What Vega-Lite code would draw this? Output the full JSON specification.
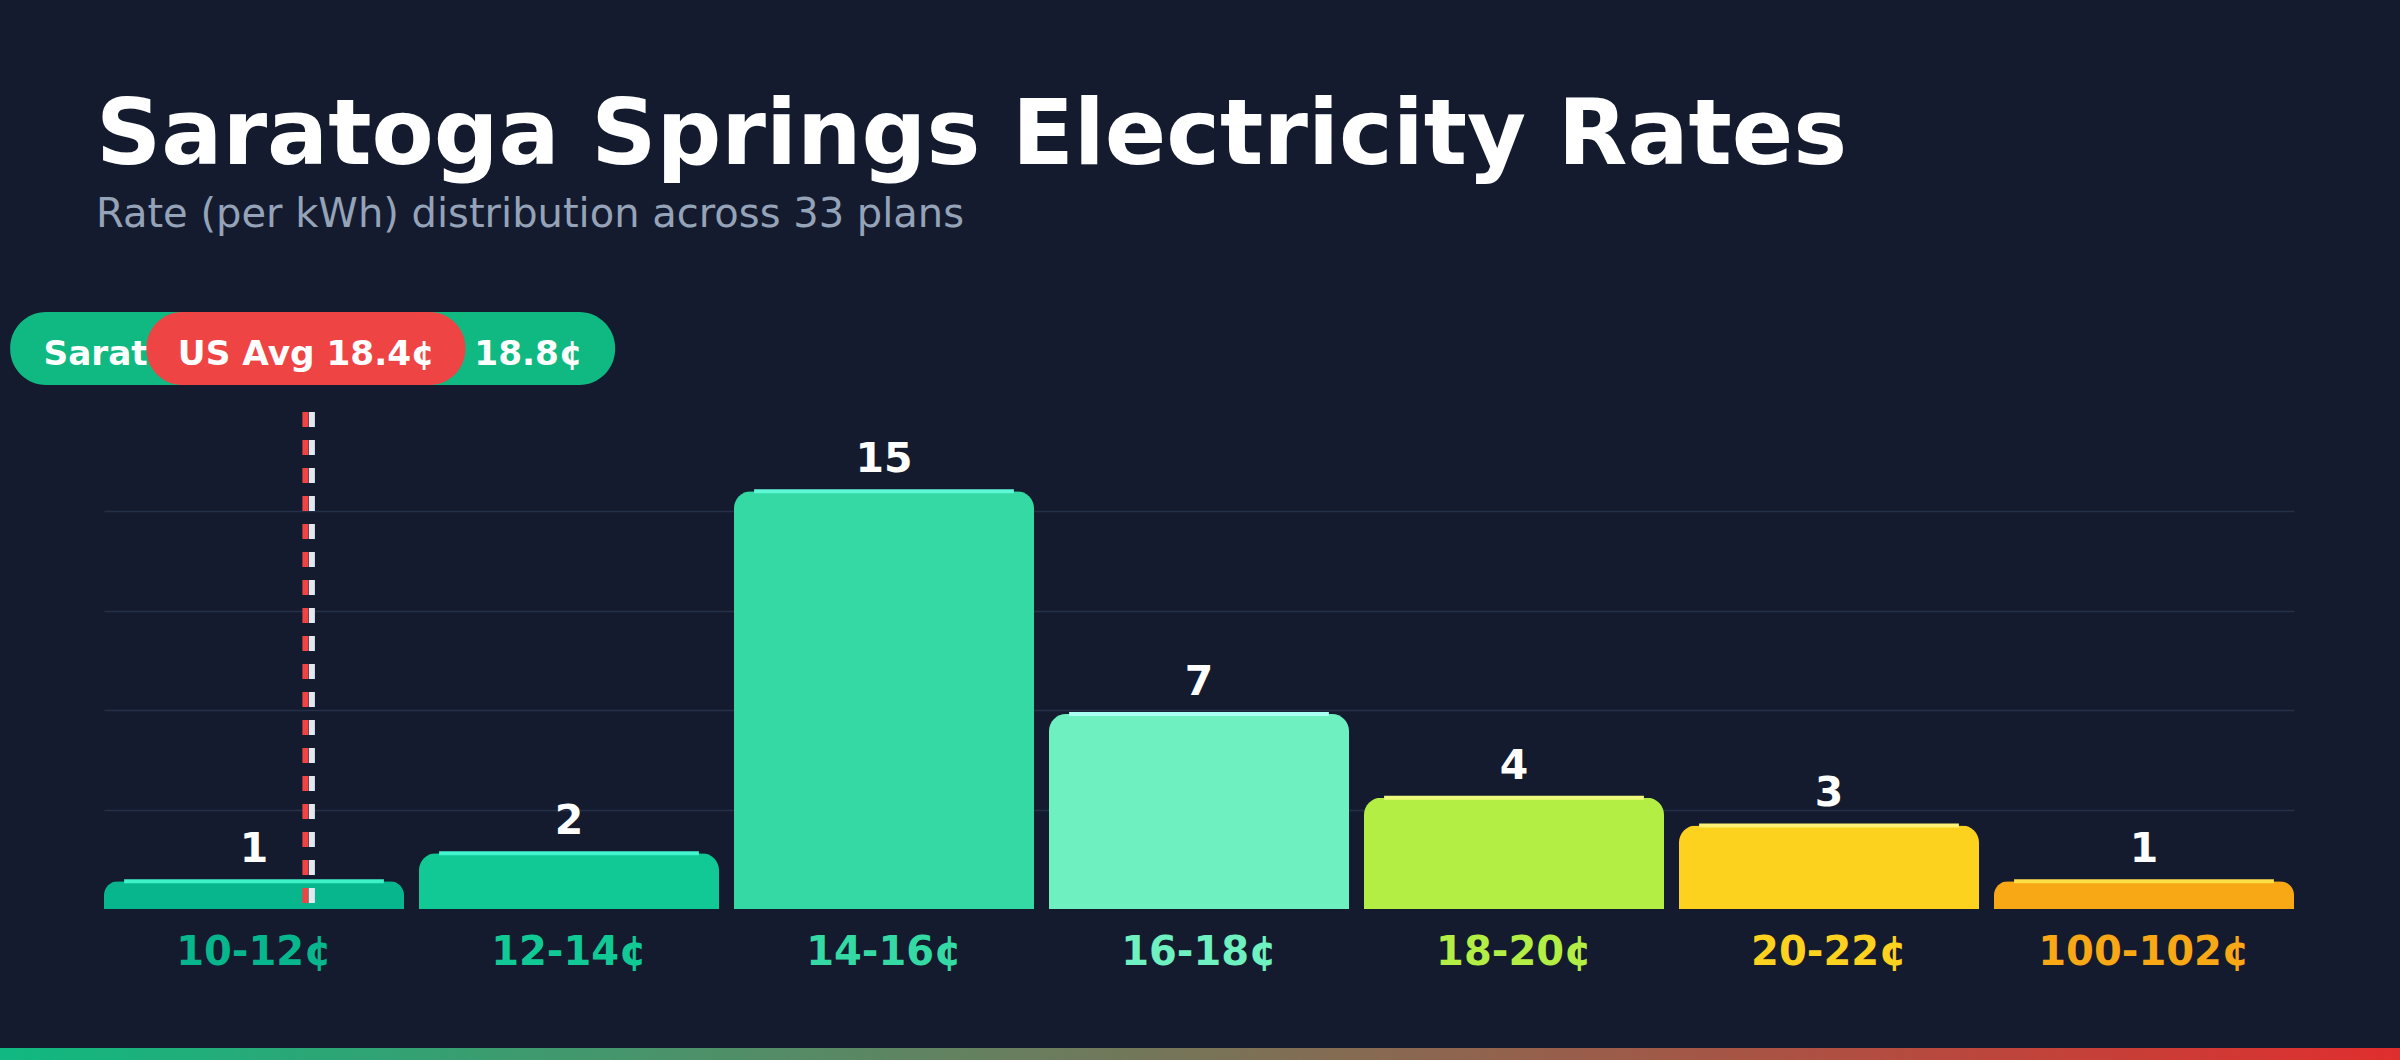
{
  "$schema": "https://vega.github.io/schema/vega-lite/v6.json",
  "description": "Saratoga Springs electricity rate distribution across 33 plans",
  "background": "#141b2f",
  "autosize": {"type": "none"},
  "width": 2190,
  "height": 497,
  "padding": {"left": 104, "top": 412, "right": 106, "bottom": 151},
  "config": {
    "view": {"stroke": null},
    "font": "DejaVu Sans"
  },
  "title": {
    "text": "Saratoga Springs Electricity Rates",
    "subtitle": "Rate (per kWh) distribution across 33 plans",
    "anchor": "start",
    "frame": "group",
    "dx": -8,
    "offset": 77,
    "font": "DejaVu Sans",
    "fontSize": 90.6,
    "fontWeight": "bold",
    "color": "#ffffff",
    "subtitleFont": "DejaVu Sans",
    "subtitleFontSize": 40,
    "subtitleFontWeight": "normal",
    "subtitleColor": "#94a3b8",
    "subtitlePadding": 12
  },
  "datasets": {
    "bins": [
      {"bin": "10-12¢", "count": 1},
      {"bin": "12-14¢", "count": 2},
      {"bin": "14-16¢", "count": 15},
      {"bin": "16-18¢", "count": 7},
      {"bin": "18-20¢", "count": 4},
      {"bin": "20-22¢", "count": 3},
      {"bin": "100-102¢", "count": 1}
    ],
    "averages": [
      {"name": "Saratoga Springs", "label": "Saratoga Springs Avg 18.8¢", "rate": 18.8},
      {"name": "US", "label": "US Avg 18.4¢", "rate": 18.4}
    ],
    "range": [
      {"low": 10, "high": 100}
    ]
  },
  "resolve": {"scale": {"x": "independent"}},
  "layer": [
    {
      "data": {"name": "bins"},
      "resolve": {"scale": {"color": "independent"}},
      "encoding": {
        "x": {
          "field": "bin",
          "type": "nominal",
          "sort": null,
          "scale": {"paddingInner": 0.0476, "paddingOuter": 0},
          "axis": {
            "title": null,
            "domain": false,
            "ticks": false,
            "grid": false,
            "labelAngle": 0,
            "labelLimit": 0,
            "labelFont": "DejaVu Sans",
            "labelFontWeight": "bold",
            "labelFontSize": 40,
            "labelPadding": 55,
            "labelBaseline": "alphabetic",
            "labelColor": {
              "condition": [
                {"test": "datum.value === '10-12¢'", "value": "#07b68c"},
                {"test": "datum.value === '12-14¢'", "value": "#11c994"},
                {"test": "datum.value === '14-16¢'", "value": "#35d9a3"},
                {"test": "datum.value === '16-18¢'", "value": "#6ff0c0"},
                {"test": "datum.value === '18-20¢'", "value": "#b3ee44"},
                {"test": "datum.value === '20-22¢'", "value": "#fdd21f"}
              ],
              "value": "#f8a715"
            }
          }
        },
        "y": {
          "field": "count",
          "type": "quantitative",
          "scale": {"domain": [0, 17.85], "nice": false},
          "axis": {
            "title": null,
            "values": [3.57, 7.14, 10.71, 14.28],
            "labels": false,
            "ticks": false,
            "domain": false,
            "grid": true,
            "gridColor": "#243047",
            "gridWidth": 1.5
          }
        }
      },
      "layer": [
        {
          "mark": {"type": "bar", "cornerRadiusTopLeft": 17, "cornerRadiusTopRight": 17},
          "encoding": {
            "color": {
              "field": "bin",
              "type": "nominal",
              "sort": null,
              "legend": null,
              "scale": {
                "domain": ["10-12¢", "12-14¢", "14-16¢", "16-18¢", "18-20¢", "20-22¢", "100-102¢"],
                "range": ["#07b68c", "#11c994", "#35d9a3", "#6ff0c0", "#b3ee44", "#fdd21f", "#f8a715"]
              }
            }
          }
        },
        {
          "mark": {"type": "bar", "width": {"band": 0.866}, "yOffset": -2, "y2Offset": 2},
          "encoding": {
            "y2": {"field": "count"},
            "color": {
              "field": "bin",
              "type": "nominal",
              "sort": null,
              "legend": null,
              "scale": {
                "domain": ["10-12¢", "12-14¢", "14-16¢", "16-18¢", "18-20¢", "20-22¢", "100-102¢"],
                "range": ["#3ef2c8", "#42f5cf", "#5ef7d8", "#a8fff2", "#eefb7a", "#fff176", "#fde047"]
              }
            }
          }
        },
        {
          "mark": {
            "type": "text",
            "baseline": "alphabetic",
            "dy": -19,
            "font": "DejaVu Sans",
            "fontWeight": "bold",
            "fontSize": 41,
            "color": "#ffffff"
          },
          "encoding": {"text": {"field": "count", "type": "quantitative"}}
        }
      ]
    },
    {
      "data": {"name": "averages"},
      "encoding": {
        "x": {
          "field": "rate",
          "type": "quantitative",
          "scale": {"domain": [10, 100], "nice": false, "zero": false},
          "axis": null
        }
      },
      "layer": [
        {
          "data": {"name": "range"},
          "mark": {
            "type": "rect",
            "xOffset": -104,
            "x2Offset": 106,
            "yOffset": 139,
            "y2Offset": 151,
            "color": {
              "gradient": "linear",
              "x1": 0, "y1": 0, "x2": 1, "y2": 0,
              "stops": [
                {"offset": 0, "color": "#10b981"},
                {"offset": 1, "color": "#e02e2e"}
              ]
            }
          },
          "encoding": {
            "x": {"field": "low", "type": "quantitative"},
            "x2": {"field": "high"},
            "y": {"datum": 0},
            "y2": {"datum": 0}
          }
        },
        {
          "transform": [{"filter": "datum.name === 'Saratoga Springs'"}],
          "mark": {"type": "rect", "color": "#10b981", "cornerRadius": 36, "xOffset": -308, "x2Offset": 297, "yOffset": -100, "y2Offset": -27},
          "encoding": {
            "x2": {"field": "rate"},
            "y": {"datum": 17.85},
            "y2": {"datum": 17.85}
          }
        },
        {
          "transform": [{"filter": "datum.name === 'Saratoga Springs'"}],
          "mark": {"type": "text", "font": "DejaVu Sans", "fontWeight": "bold", "fontSize": 34.3, "color": "#ffffff", "baseline": "alphabetic", "xOffset": -5, "yOffset": -47},
          "encoding": {
            "y": {"datum": 17.85},
            "text": {"field": "label"}
          }
        },
        {
          "transform": [{"filter": "datum.name === 'US'"}],
          "mark": {"type": "rect", "color": "#ef4444", "cornerRadius": 36, "xOffset": -162, "x2Offset": 157, "yOffset": -100, "y2Offset": -27},
          "encoding": {
            "x2": {"field": "rate"},
            "y": {"datum": 17.85},
            "y2": {"datum": 17.85}
          }
        },
        {
          "transform": [{"filter": "datum.name === 'US'"}],
          "mark": {"type": "text", "font": "DejaVu Sans", "fontWeight": "bold", "fontSize": 34.3, "color": "#ffffff", "baseline": "alphabetic", "xOffset": -2, "yOffset": -47},
          "encoding": {
            "y": {"datum": 17.85},
            "text": {"field": "label"}
          }
        },
        {
          "transform": [{"filter": "datum.name === 'US'"}],
          "mark": {"type": "rule", "color": "#ef4444", "strokeWidth": 6, "strokeDash": [15, 13], "xOffset": -3},
          "encoding": {
            "y": {"datum": 17.85},
            "y2": {"datum": 0}
          }
        },
        {
          "transform": [{"filter": "datum.name === 'US'"}],
          "mark": {"type": "rule", "color": "#e2e8f0", "strokeWidth": 6, "strokeDash": [15, 13], "xOffset": 3.5},
          "encoding": {
            "y": {"datum": 17.85},
            "y2": {"datum": 0}
          }
        }
      ]
    }
  ]
}
